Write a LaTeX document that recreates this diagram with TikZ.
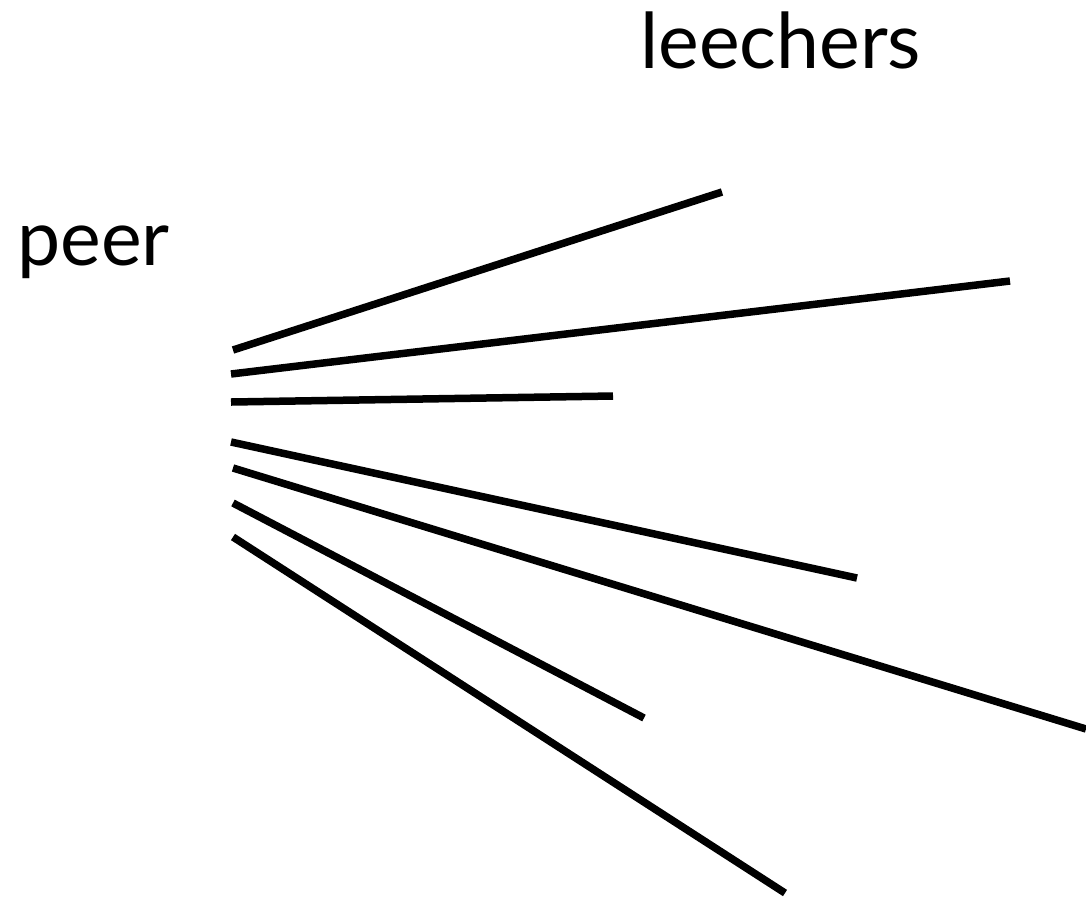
\documentclass[tikz,border=0pt]{standalone}
\usepackage{fontspec}
\setmainfont{Lato}
\begin{document}
\begin{tikzpicture}[x=1pt,y=-1pt,
  label/.style={inner sep=0pt,anchor=base west,font=\fontsize{77}{92}\selectfont},
  ray/.style={line width=7.5pt,line cap=butt}]
\useasboundingbox (0,0) rectangle (1086,898);
\node[label] (leechers) at (640,68) {leechers};
\node[label] (peer) at (17,265) {peer};
\coordinate (s1) at (233,350); \coordinate (e1) at (722,192);
\coordinate (s2) at (231,374); \coordinate (e2) at (1010,281);
\coordinate (s3) at (231,402); \coordinate (e3) at (613,396);
\coordinate (s4) at (231,442); \coordinate (e4) at (857,578);
\coordinate (s5) at (233,468); \coordinate (e5) at (1086,729);
\coordinate (s6) at (233,503); \coordinate (e6) at (644,718);
\coordinate (s7) at (233,537); \coordinate (e7) at (785,893);
\foreach \i in {1,...,7} \draw[ray] (s\i) -- (e\i);
\end{tikzpicture}
\end{document}
